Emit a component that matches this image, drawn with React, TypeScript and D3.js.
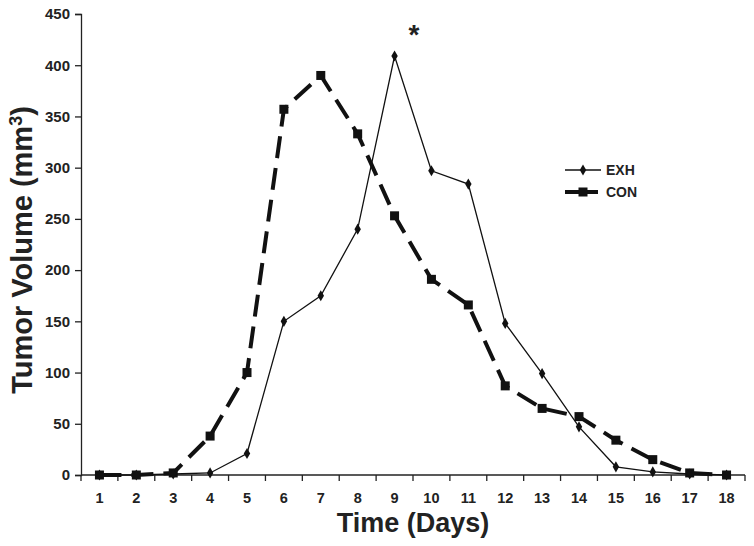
import { useEffect, useRef } from 'react';
import * as d3 from 'd3';

const days = [1, 2, 3, 4, 5, 6, 7, 8, 9, 10, 11, 12, 13, 14, 15, 16, 17, 18];
const exhValues = [0, 0, 1, 2, 21, 150, 175, 240, 409, 297, 284, 148, 99, 47, 8, 3, 1, 0];
const conValues = [0, 0, 2, 38, 100, 357, 390, 333, 253, 191, 166, 87, 65, 57, 34, 15, 2, 0];
const yTicks = [0, 50, 100, 150, 200, 250, 300, 350, 400, 450];

const W = 754;
const H = 546;

export default function App() {
  const svgRef = useRef<SVGSVGElement>(null);

  useEffect(() => {
    if (!svgRef.current) return;
    const svg = d3.select(svgRef.current);
    svg.selectAll('*').remove();

    const margin = { top: 14, right: 9, bottom: 71, left: 81 };
    const innerW = W - margin.left - margin.right;
    const innerH = H - margin.top - margin.bottom;
    const font = '"Liberation Sans", Arial, sans-serif';

    const g = svg.append('g').attr('transform', `translate(${margin.left},${margin.top})`);

    const x = d3.scaleBand<number>().domain(days).range([0, innerW]);
    const cx = (d: number) => (x(d) ?? 0) + x.bandwidth() / 2;
    const y = d3.scaleLinear().domain([0, 450]).range([innerH, 0]);

    // Y axis
    const yAxis = g.append('g').call(d3.axisLeft(y).tickValues(yTicks).tickSize(6).tickPadding(5));
    yAxis.select('.domain').attr('stroke', '#222').attr('stroke-width', 1.3);
    yAxis.selectAll('line').attr('stroke', '#222').attr('stroke-width', 1.3);
    yAxis.selectAll('text')
      .attr('font-family', font).attr('font-weight', 'bold').attr('font-size', 15).attr('fill', '#222');

    // X axis, ticks on the category boundaries
    const xAxisG = g.append('g').attr('transform', `translate(0,${innerH})`);
    xAxisG.append('line').attr('x1', 0).attr('x2', innerW).attr('stroke', '#222').attr('stroke-width', 1.3);
    xAxisG.selectAll('.bt')
      .data(d3.range(days.length + 1))
      .enter()
      .append('line')
      .attr('x1', i => i * x.bandwidth())
      .attr('x2', i => i * x.bandwidth())
      .attr('y1', 0).attr('y2', 6)
      .attr('stroke', '#222').attr('stroke-width', 1.3);
    xAxisG.selectAll('.lbl')
      .data(days)
      .enter()
      .append('text')
      .attr('x', d => cx(d))
      .attr('y', 28)
      .attr('text-anchor', 'middle')
      .attr('font-family', font).attr('font-weight', 'bold').attr('font-size', 14.5).attr('fill', '#222')
      .text(d => d);

    const line = d3.line<number>().x((_, i) => cx(days[i])).y(v => y(v));

    // CON dashed line
    g.append('path')
      .datum(conValues)
      .attr('d', line)
      .attr('fill', 'none')
      .attr('stroke', '#111')
      .attr('stroke-width', 4)
      .attr('stroke-dasharray', '22,10');
    g.selectAll('.sq')
      .data(conValues)
      .enter()
      .append('rect')
      .attr('x', (_, i) => cx(days[i]) - 4.5)
      .attr('y', v => y(v) - 4.5)
      .attr('width', 9).attr('height', 9)
      .attr('fill', '#111');

    // EXH solid line
    g.append('path')
      .datum(exhValues)
      .attr('d', line)
      .attr('fill', 'none')
      .attr('stroke', '#111')
      .attr('stroke-width', 1.3);
    const diamond = d3.symbol().type(d3.symbolDiamond).size(36);
    g.selectAll('.dm')
      .data(exhValues)
      .enter()
      .append('path')
      .attr('d', diamond)
      .attr('transform', (v, i) => `translate(${cx(days[i])},${y(v)})`)
      .attr('fill', '#111');

    // significance asterisk
    g.append('text')
      .attr('x', (cx(9) + cx(10)) / 2 + 1)
      .attr('y', y(450) + 30)
      .attr('text-anchor', 'middle')
      .attr('font-family', font).attr('font-weight', 'bold').attr('font-size', 28).attr('fill', '#222')
      .text('*');

    // Legend
    const leg = svg.append('g').attr('transform', 'translate(565,170)');
    leg.append('line').attr('x1', 0).attr('x2', 36).attr('y1', 0).attr('y2', 0).attr('stroke', '#111').attr('stroke-width', 1.3);
    leg.append('path').attr('d', diamond).attr('transform', 'translate(18,0)').attr('fill', '#111');
    leg.append('text').attr('x', 41).attr('y', 5).attr('font-family', font).attr('font-weight', 'bold').attr('font-size', 14).attr('fill', '#222').text('EXH');
    leg.append('line').attr('x1', 0).attr('x2', 33).attr('y1', 22).attr('y2', 22).attr('stroke', '#111').attr('stroke-width', 4);
    leg.append('rect').attr('x', 13.5).attr('y', 17.5).attr('width', 9).attr('height', 9).attr('fill', '#111');
    leg.append('text').attr('x', 41).attr('y', 27).attr('font-family', font).attr('font-weight', 'bold').attr('font-size', 14).attr('fill', '#222').text('CON');

    // Axis titles
    const yt = svg.append('text')
      .attr('transform', 'translate(32,250) rotate(-90)')
      .attr('text-anchor', 'middle')
      .attr('font-family', font).attr('font-weight', 'bold').attr('font-size', 29).attr('fill', '#222');
    yt.append('tspan').text('Tumor Volume (mm');
    yt.append('tspan').attr('baseline-shift', 'super').attr('font-size', 18).text('3');
    yt.append('tspan').text(')');

    svg.append('text')
      .attr('x', 413)
      .attr('y', 532)
      .attr('text-anchor', 'middle')
      .attr('font-family', font).attr('font-weight', 'bold').attr('font-size', 27).attr('fill', '#222')
      .text('Time (Days)');
  }, []);

  return (
    <div style={{ position: 'absolute', left: 0, top: 0, width: W, height: H }}>
      <svg ref={svgRef} width={W} height={H} style={{ display: 'block', background: '#fff' }} />
    </div>
  );
}
